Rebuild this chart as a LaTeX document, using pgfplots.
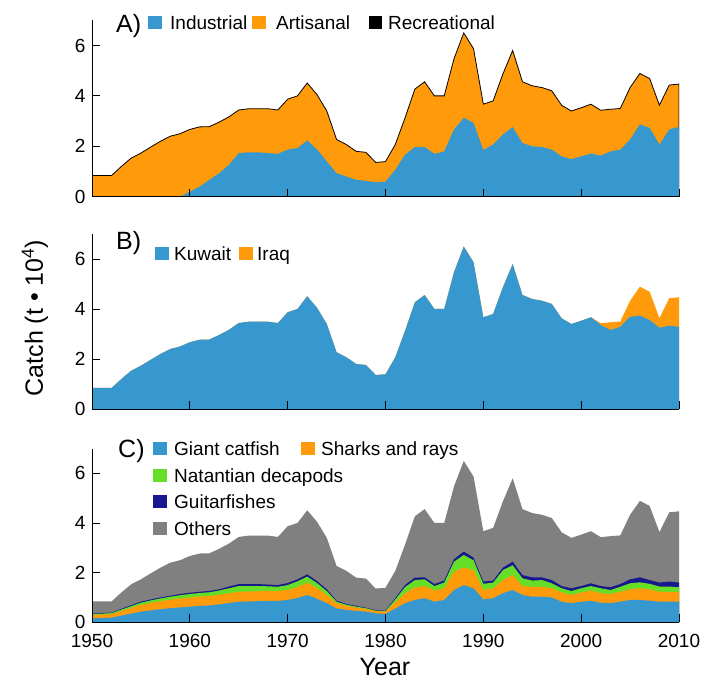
\documentclass[border=0pt]{standalone}
\usepackage{pgfplots}
\pgfplotsset{compat=1.18}
\usepackage{pgfplotstable}
\usepackage{fontspec}
\setmainfont{Liberation Sans}
\definecolor{cblue}{RGB}{54,152,206}
\definecolor{corange}{RGB}{255,155,10}
\definecolor{cgreen}{RGB}{102,222,40}
\definecolor{cnavy}{RGB}{22,24,140}
\definecolor{cgray}{RGB}{128,128,128}

% Panel A: total catch (T) and industrial (I), t x 10^4
\pgfplotstableread{
year T I
1950 0.84 0
1951 0.84 0
1952 0.84 0
1953 1.20 0
1954 1.53 0
1955 1.73 0
1956 1.97 0
1957 2.20 0
1958 2.40 0
1959 2.50 0
1960 2.67 0.20
1961 2.77 0.40
1962 2.78 0.67
1963 2.96 0.93
1964 3.17 1.27
1965 3.44 1.73
1966 3.49 1.76
1967 3.49 1.76
1968 3.49 1.73
1969 3.44 1.70
1970 3.87 1.87
1971 4.00 1.93
1972 4.51 2.23
1973 4.05 1.87
1974 3.40 1.40
1975 2.27 0.93
1976 2.07 0.80
1977 1.80 0.67
1978 1.76 0.63
1979 1.36 0.57
1980 1.39 0.60
1981 2.07 1.07
1982 3.13 1.67
1983 4.27 1.97
1984 4.56 1.97
1985 4.00 1.70
1986 4.00 1.80
1987 5.47 2.67
1988 6.50 3.13
1989 5.87 2.93
1990 3.67 1.85
1991 3.80 2.07
1992 4.87 2.47
1993 5.80 2.76
1994 4.56 2.13
1995 4.40 2.00
1996 4.33 1.97
1997 4.20 1.87
1998 3.63 1.60
1999 3.40 1.49
2000 3.53 1.60
2001 3.67 1.71
2002 3.43 1.63
2003 3.47 1.80
2004 3.50 1.87
2005 4.33 2.27
2006 4.89 2.87
2007 4.69 2.73
2008 3.63 2.07
2009 4.43 2.67
2010 4.47 2.77
}\tabA

% Panel B: total (T) and Kuwait (K)
\pgfplotstableread{
year T K
1950 0.84 0.84
1951 0.84 0.84
1952 0.84 0.84
1953 1.20 1.20
1954 1.53 1.53
1955 1.73 1.73
1956 1.97 1.97
1957 2.20 2.20
1958 2.40 2.40
1959 2.50 2.50
1960 2.67 2.67
1961 2.77 2.77
1962 2.78 2.78
1963 2.96 2.96
1964 3.17 3.17
1965 3.44 3.44
1966 3.49 3.49
1967 3.49 3.49
1968 3.49 3.49
1969 3.44 3.44
1970 3.87 3.87
1971 4.00 4.00
1972 4.51 4.51
1973 4.05 4.05
1974 3.40 3.40
1975 2.27 2.27
1976 2.07 2.07
1977 1.80 1.80
1978 1.76 1.76
1979 1.36 1.36
1980 1.39 1.39
1981 2.07 2.07
1982 3.13 3.13
1983 4.27 4.27
1984 4.56 4.56
1985 4.00 4.00
1986 4.00 4.00
1987 5.47 5.47
1988 6.50 6.50
1989 5.87 5.87
1990 3.67 3.67
1991 3.80 3.80
1992 4.87 4.87
1993 5.80 5.80
1994 4.56 4.56
1995 4.40 4.40
1996 4.33 4.33
1997 4.20 4.20
1998 3.63 3.63
1999 3.40 3.40
2000 3.53 3.53
2001 3.67 3.67
2002 3.43 3.36
2003 3.47 3.16
2004 3.50 3.29
2005 4.33 3.69
2006 4.89 3.73
2007 4.69 3.56
2008 3.63 3.25
2009 4.43 3.33
2010 4.47 3.29
}\tabB

% Panel C: cumulative tops: total, +guitarfishes (N), +natantian (G), +sharks (O), giant catfish (B)
\pgfplotstableread{
year T N G O B
1950 0.84 0.36 0.34 0.30 0.16
1951 0.84 0.37 0.35 0.31 0.17
1952 0.84 0.39 0.37 0.33 0.19
1953 1.20 0.54 0.51 0.45 0.27
1954 1.53 0.69 0.65 0.58 0.35
1955 1.73 0.83 0.79 0.70 0.43
1956 1.97 0.92 0.88 0.78 0.48
1957 2.20 1.00 0.96 0.85 0.53
1958 2.40 1.07 1.03 0.91 0.57
1959 2.50 1.14 1.09 0.96 0.60
1960 2.67 1.19 1.14 1.00 0.63
1961 2.77 1.23 1.18 1.04 0.66
1962 2.78 1.26 1.21 1.06 0.68
1963 2.96 1.33 1.28 1.11 0.72
1964 3.17 1.44 1.37 1.17 0.78
1965 3.44 1.54 1.46 1.23 0.83
1966 3.49 1.54 1.46 1.24 0.84
1967 3.49 1.54 1.46 1.25 0.85
1968 3.49 1.52 1.45 1.26 0.86
1969 3.44 1.50 1.43 1.26 0.86
1970 3.87 1.58 1.50 1.30 0.90
1971 4.00 1.73 1.65 1.42 0.98
1972 4.51 1.93 1.84 1.60 1.10
1973 4.05 1.66 1.58 1.38 0.95
1974 3.40 1.33 1.26 1.10 0.77
1975 2.27 0.87 0.83 0.77 0.56
1976 2.07 0.74 0.71 0.66 0.50
1977 1.80 0.66 0.63 0.59 0.46
1978 1.76 0.59 0.57 0.54 0.43
1979 1.36 0.49 0.47 0.45 0.36
1980 1.39 0.47 0.45 0.43 0.34
1981 2.07 0.97 0.92 0.80 0.55
1982 3.13 1.50 1.42 1.17 0.77
1983 4.27 1.80 1.70 1.40 0.90
1984 4.56 1.81 1.73 1.46 0.97
1985 4.00 1.54 1.46 1.28 0.83
1986 4.00 1.68 1.60 1.37 0.90
1987 5.47 2.54 2.44 2.04 1.30
1988 6.50 2.85 2.71 2.20 1.50
1989 5.87 2.60 2.50 2.10 1.37
1990 3.67 1.64 1.55 1.30 0.92
1991 3.80 1.68 1.60 1.37 0.97
1992 4.87 2.20 2.10 1.70 1.17
1993 5.80 2.44 2.30 1.90 1.30
1994 4.56 1.90 1.77 1.46 1.10
1995 4.40 1.81 1.68 1.43 1.03
1996 4.33 1.81 1.70 1.43 1.03
1997 4.20 1.70 1.57 1.37 1.00
1998 3.63 1.46 1.37 1.20 0.83
1999 3.40 1.37 1.26 1.10 0.77
2000 3.53 1.46 1.37 1.20 0.83
2001 3.67 1.57 1.46 1.28 0.86
2002 3.43 1.46 1.37 1.17 0.79
2003 3.47 1.41 1.30 1.14 0.77
2004 3.50 1.54 1.43 1.23 0.83
2005 4.33 1.73 1.57 1.33 0.90
2006 4.89 1.81 1.61 1.37 0.90
2007 4.69 1.70 1.55 1.33 0.87
2008 3.63 1.60 1.44 1.23 0.83
2009 4.43 1.64 1.44 1.23 0.83
2010 4.47 1.60 1.41 1.23 0.83
}\tabC

\pgfplotsset{
  panel/.style={
    scale only axis, width=587pt,
    xmin=1950, xmax=2010, ymin=0, ymax=7,
    axis x line*=bottom, axis y line*=left, axis on top,
    xtick={1950,1960,...,2010}, ytick={0,2,4,6},
    tick align=inside, major tick length=8pt,
    tick style={black, line width=0.8pt},
    axis line style={black, line width=0.8pt},
    /pgf/number format/assume math mode=true,
    /pgf/number format/1000 sep={},
    tick label style={font=\fontsize{19}{19}\selectfont},
    yticklabel style={xshift=-3pt},
    anchor=south west,
  },
}
\tikzset{
  lg/.style={font=\fontsize{19}{19}\selectfont, anchor=base west, inner sep=0pt},
  pl/.style={font=\fontsize{25}{25}\selectfont, anchor=base west, inner sep=0pt},
}

\begin{document}
\begin{tikzpicture}
\useasboundingbox (0pt,0pt) rectangle (705pt,681pt);

% Panel A
\begin{axis}[panel, at={(92pt,484.3pt)}, height=176.4pt, xticklabels={}]
\addplot[fill=corange, draw=black, line width=0.8pt] table[x=year,y=T]{\tabA} \closedcycle;
\addplot[fill=cblue, draw=none] table[x=year,y=I]{\tabA} \closedcycle;
\end{axis}

% Panel B
\begin{axis}[panel, at={(92pt,272pt)}, height=175pt, xticklabels={}]
\addplot[fill=corange, draw=none] table[x=year,y=T]{\tabB} \closedcycle;
\addplot[fill=cblue, draw=none] table[x=year,y=K]{\tabB} \closedcycle;
\end{axis}

% Panel C
\begin{axis}[panel, at={(92pt,58.7pt)}, height=173.8pt,
  xticklabel style={yshift=-8.5pt}]
\addplot[fill=cgray, draw=none] table[x=year,y=T]{\tabC} \closedcycle;
\addplot[fill=cnavy, draw=none] table[x=year,y=N]{\tabC} \closedcycle;
\addplot[fill=cgreen, draw=none] table[x=year,y=G]{\tabC} \closedcycle;
\addplot[fill=corange, draw=none] table[x=year,y=O]{\tabC} \closedcycle;
\addplot[fill=cblue, draw=none] table[x=year,y=B]{\tabC} \closedcycle;
\end{axis}

\begin{scope}[x=1pt,y=1pt]
% Legends (picture coords: x = px, y = 681 - px)
% A
\node[pl] at (116,648) {A)};
\fill[cblue] (148,652) rectangle (162,665);
\node[lg] at (170,651) {Industrial};
\fill[corange] (252,652) rectangle (266,665);
\node[lg] at (276,651) {Artisanal};
\fill[black] (369,652) rectangle (382,665);
\node[lg] at (388,651) {Recreational};
% B
\node[pl] at (116,431) {B)};
\fill[cblue] (155,421) rectangle (169,434);
\node[lg] at (174,420) {Kuwait};
\fill[corange] (239,421) rectangle (253,434);
\node[lg] at (257,420) {Iraq};
% C
\node[pl] at (118,223) {C)};
\fill[cblue] (153,226) rectangle (167,239);
\node[lg] at (174,225) {Giant catfish};
\fill[corange] (301,226) rectangle (315,239);
\node[lg] at (321,225) {Sharks and rays};
\fill[cgreen] (153,199) rectangle (167,212);
\node[lg] at (174,198) {Natantian decapods};
\fill[cnavy] (153,173) rectangle (167,186);
\node[lg] at (174,172) {Guitarfishes};
\fill[cgray] (153,146) rectangle (167,159);
\node[lg] at (174,145) {Others};

% Axis titles
\node[rotate=90, font=\fontsize{25}{25}\selectfont] at (35,363) {Catch (t \textbullet\ 10\textsuperscript{4})};
\node[font=\fontsize{25}{25}\selectfont] at (385,14) {Year};
\end{scope}
\end{tikzpicture}
\end{document}
